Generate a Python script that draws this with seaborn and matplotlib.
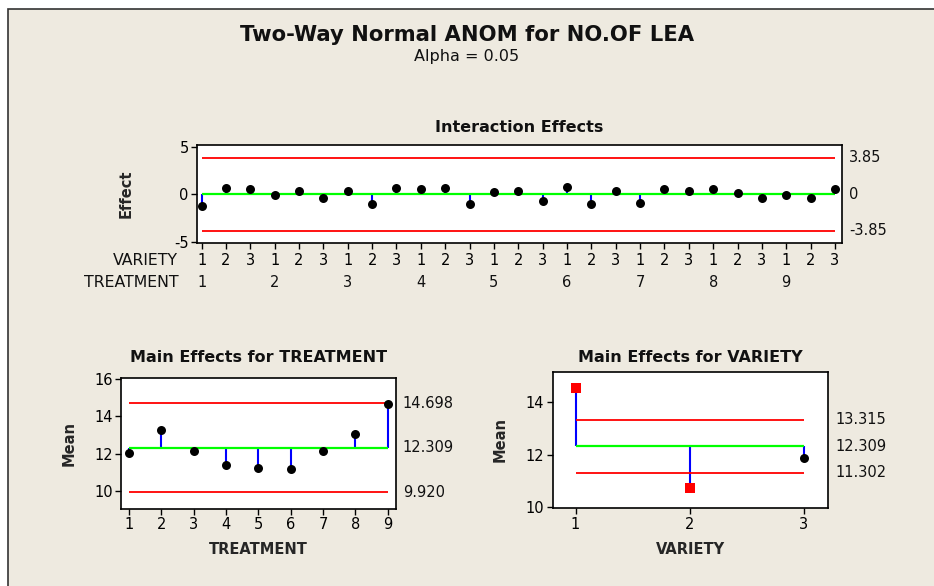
import numpy as np
import pandas as pd
import matplotlib
matplotlib.use("Agg")
import matplotlib.pyplot as plt
import matplotlib.transforms as mtransforms
from matplotlib.patches import Rectangle
import seaborn as sns

# values
treatments = [1, 2, 3, 4, 5, 6, 7, 8, 9]
varieties = [1, 2, 3]
interaction_effects = [-1.23, 0.70, 0.56, -0.07, 0.39, -0.42, 0.39, -1.02, 0.70,
                       0.56, 0.70, -1.02, 0.21, 0.39, -0.74, 0.74, -1.02, 0.39,
                       -0.88, 0.53, 0.39, 0.53, 0.11, -0.42, -0.07, -0.42, 0.53]
interaction_limits = [-3.85, 0.0, 3.85]
interaction_limit_labels = ['-3.85', '0', '3.85']

treatment_means = [12.06, 13.28, 12.15, 11.41, 11.25, 11.18, 12.15, 13.04, 14.67]
treatment_limits = [9.920, 12.309, 14.698]
treatment_limit_labels = ['9.920', '12.309', '14.698']

variety_means = [14.52, 10.73, 11.85]
variety_limits = [11.302, 12.309, 13.315]
variety_limit_labels = ['11.302', '12.309', '13.315']

BG = '#EEEAE0'
RED = '#FF0000'
GREEN = '#00FF00'
BLUE = '#0000FF'
FS = 10.5

sns.set_theme(style='white')
plt.rcParams['font.family'] = ['DejaVu Sans']
plt.rcParams['axes.unicode_minus'] = False
plt.rcParams['axes.edgecolor'] = 'black'
plt.rcParams['axes.linewidth'] = 1.2
plt.rcParams['xtick.color'] = 'black'
plt.rcParams['ytick.color'] = 'black'
plt.rcParams['text.color'] = '#111111'

fig = plt.figure(figsize=(9.34, 5.86), dpi=100, facecolor='white')
W, H = 934, 586
fig.patches.append(Rectangle((8 / W, -0.05), 1.1, 1 - 9 / H + 0.05, transform=fig.transFigure,
                             facecolor=BG, edgecolor='#333333', lw=1.2, zorder=-10))

fig.text(0.5, 1 - 35 / H, 'Two-Way Normal ANOM for NO.OF LEA', ha='center', va='center',
         fontsize=15.2, fontweight='bold')
fig.text(0.5, 1 - 57 / H, 'Alpha = 0.05', ha='center', va='center', fontsize=11.5)


def anom_panel(ax, x, values, limits, limit_labels, label_x):
    center = limits[1]
    lo, hi = min(x), max(x)
    ax.vlines(x, center, values, color=BLUE, lw=1.5, zorder=2)
    ax.hlines(center, lo, hi, color=GREEN, lw=1.6, zorder=3)
    ax.hlines([limits[0], limits[2]], lo, hi, color=RED, lw=1.3, zorder=3)
    out = [(v > limits[2]) or (v < limits[0]) for v in values]
    df = pd.DataFrame({'x': x, 'y': values, 'out': out})
    sns.scatterplot(data=df[~df['out']], x='x', y='y', ax=ax, color='black', marker='o',
                    s=42, edgecolor='black', linewidth=0, zorder=5)
    sns.scatterplot(data=df[df['out']], x='x', y='y', ax=ax, color=RED, marker='s',
                    s=48, edgecolor=RED, linewidth=0, zorder=5)
    trans = mtransforms.blended_transform_factory(ax.transAxes, ax.transData)
    for val, lab in zip(limits, limit_labels):
        ax.text(label_x, val, lab, transform=trans, ha='left', va='center', fontsize=FS)
    ax.set_facecolor('white')
    ax.tick_params(axis='both', which='both', direction='out', length=4, width=1,
                   labelsize=FS, bottom=True, left=True, pad=2)
    for sp in ax.spines.values():
        sp.set_visible(True)


# interaction effects
ax1 = fig.add_axes([197 / W, 1 - 243 / H, 645 / W, 98 / H])
pos = np.arange(1, len(interaction_effects) + 1)
anom_panel(ax1, pos, interaction_effects, interaction_limits, interaction_limit_labels, 1.011)
ax1.set_xlim(0.81, 27.29)
ax1.set_ylim(-5.15, 5.2)
ax1.set_yticks([-5, 0, 5])
ax1.set_xticks(pos)
var_row = [varieties[i % len(varieties)] for i in range(len(pos))]
ax1.set_xticklabels([str(v) for v in var_row])
ax1.tick_params(axis='x', pad=3)
ax1.set_xlabel('')
ax1.set_ylabel('Effect', fontsize=FS, fontweight='bold')
ax1.yaxis.set_label_coords(-0.099, 0.5)
ax1.set_title('Interaction Effects', fontsize=11.5, fontweight='bold', pad=9)
ax1.text(-0.029, -0.18, 'VARIETY', transform=ax1.transAxes, ha='right', va='center', fontsize=11.3)
ax1.text(-0.029, -0.405, 'TREATMENT', transform=ax1.transAxes, ha='right', va='center', fontsize=11.3)
tr1 = mtransforms.blended_transform_factory(ax1.transData, ax1.transAxes)
for k, t in enumerate(treatments):
    ax1.text(pos[k * len(varieties)], -0.405, str(t), transform=tr1, ha='center', va='center',
             fontsize=FS)

# main effects for treatment
ax2 = fig.add_axes([121 / W, 1 - 509 / H, 275 / W, 130.7 / H])
anom_panel(ax2, treatments, treatment_means, treatment_limits, treatment_limit_labels, 1.025)
ax2.set_xlim(0.75, 9.26)
ax2.set_ylim(9.03, 16.05)
ax2.set_yticks([10, 12, 14, 16])
ax2.set_xticks(treatments)
ax2.set_xlabel('TREATMENT', fontsize=FS, fontweight='bold')
ax2.xaxis.set_label_coords(0.5, -0.252)
ax2.set_ylabel('Mean', fontsize=FS, fontweight='bold')
ax2.yaxis.set_label_coords(-0.161, 0.5)
ax2.set_title('Main Effects for TREATMENT', fontsize=11.5, fontweight='bold', pad=12)

# main effects for variety
ax3 = fig.add_axes([552.7 / W, 1 - 508.3 / H, 275 / W, 136.6 / H])
anom_panel(ax3, varieties, variety_means, variety_limits, variety_limit_labels, 1.027)
ax3.set_xlim(0.80, 3.21)
ax3.set_ylim(9.96, 15.14)
ax3.set_yticks([10, 12, 14])
ax3.set_xticks(varieties)
ax3.set_xlabel('VARIETY', fontsize=FS, fontweight='bold')
ax3.xaxis.set_label_coords(0.5, -0.247)
ax3.set_ylabel('Mean', fontsize=FS, fontweight='bold')
ax3.yaxis.set_label_coords(-0.163, 0.5)
ax3.set_title('Main Effects for VARIETY', fontsize=11.5, fontweight='bold', pad=7)

fig.savefig('out.png', dpi=100, facecolor=fig.get_facecolor())
